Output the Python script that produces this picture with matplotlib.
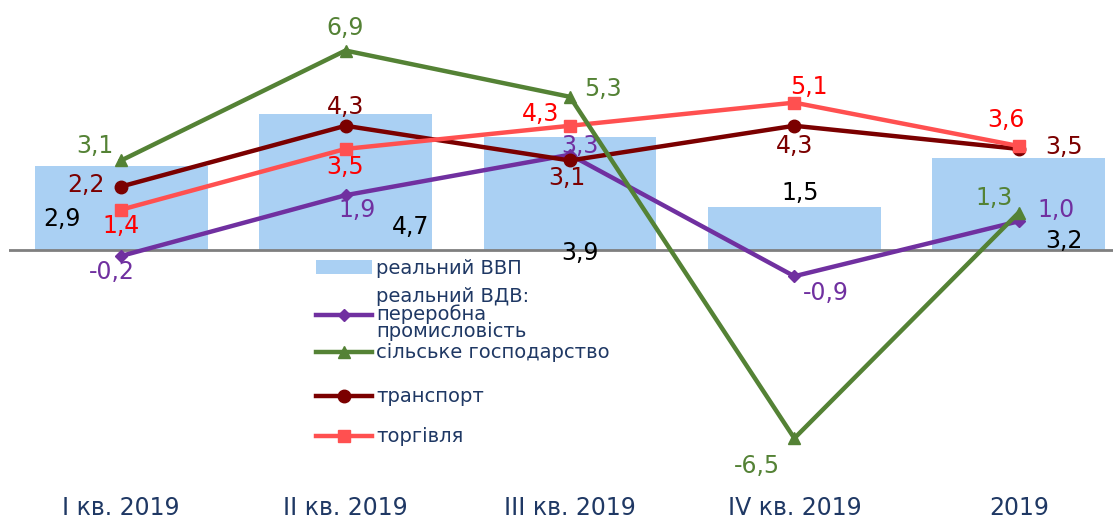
import matplotlib.pyplot as plt
from matplotlib.legend import Legend
import numpy as np

categories = ['I кв. 2019', 'II кв. 2019', 'III кв. 2019', 'IV кв. 2019', '2019']
gdp = [2.9, 4.7, 3.9, 1.5, 3.2]
manufacturing = [-0.2, 1.9, 3.3, -0.9, 1.0]
agriculture = [3.1, 6.9, 5.3, -6.5, 1.3]
transport = [2.2, 4.3, 3.1, 4.3, 3.5]
trade = [1.4, 3.5, 4.3, 5.1, 3.6]

# label offsets in pixels (dx, dy), dy positive = up
gdp_off = [(-59, -53), (65, -113), (10, -116), (6, 14), (45, -83)]
man_off = [(-9, -16), (12, -15), (10, 9), (31, -17), (37, 11)]
agr_off = [(-26, 14), (0, 23), (33, 8), (-37, -28), (-25, 15)]
tr_off = [(-35, 2), (0, 19), (-3, -18), (0, -20), (45, 2)]
trd_off = [(0, -16), (0, -18), (-29, 12), (15, 16), (-13, 26)]

def fmt(v):
    return ('%.1f' % v).replace('.', ',')

def put_labels(ax, x, vals, offs, color):
    for xi, v, (dx, dy) in zip(x, vals, offs):
        ax.annotate(fmt(v), (xi, v), xytext=(dx, dy), textcoords='offset pixels',
                    ha='center', va='center', fontsize=17, color=color)

fig = plt.figure(figsize=(11.13, 5.22), dpi=100)
ax = fig.add_axes([0.008, 1 - 481.7 / 522, 0.992, 463 / 522])
x = np.arange(len(categories))

c_bar = '#AAD0F3'
c_man = '#7030A0'
c_agr = '#548235'
c_tr = '#7B0000'
c_trd = '#FF5050'

b = ax.bar(x, gdp, width=0.77, color=c_bar, zorder=1)
ax.axhline(0, color='#7F7F7F', lw=2, zorder=2)
l1, = ax.plot(x, manufacturing, color=c_man, lw=3.2, marker='D', ms=6, zorder=3)
l3, = ax.plot(x, transport, color=c_tr, lw=3.2, marker='o', ms=9, zorder=3)
l4, = ax.plot(x, trade, color=c_trd, lw=3.2, marker='s', ms=8, zorder=4)
l2, = ax.plot(x, agriculture, color=c_agr, lw=3.2, marker='^', ms=9, zorder=5)

put_labels(ax, x, gdp, gdp_off, 'black')
put_labels(ax, x, manufacturing, man_off, c_man)
put_labels(ax, x, agriculture, agr_off, c_agr)
put_labels(ax, x, transport, tr_off, c_tr)
put_labels(ax, x, trade, trd_off, '#FF0000')

ax.set_xlim(-0.5, 4.42)
ax.set_ylim(-8, 8)
ax.set_yticks([])
ax.set_xticks(x)
ax.set_xticklabels(categories, fontsize=17, color='#1F3864')
ax.tick_params(axis='x', length=0, pad=10)
for s in ax.spines.values():
    s.set_visible(False)

# legend entries placed one by one (uneven row spacing in the original)
entries = [(b, 'реальний ВВП', 268),
           (l1, 'реальний ВДВ:\nпереробна\nпромисловість', 314),
           (l2, 'сільське господарство', 353),
           (l3, 'транспорт', 397),
           (l4, 'торгівля', 437)]
for h, lab, yc in entries:
    leg = Legend(ax, [h], [lab], loc='center left',
                 bbox_to_anchor=(316 / 1113, 1 - yc / 522), bbox_transform=fig.transFigure,
                 frameon=False, fontsize=14, handlelength=2.9,
                 handletextpad=0.2, borderpad=0, borderaxespad=0)
    for t in leg.get_texts():
        t.set_color('#1F3864')
        t.set_linespacing(0.85)
    ax.add_artist(leg)

fig.savefig('out.png', dpi=100)
